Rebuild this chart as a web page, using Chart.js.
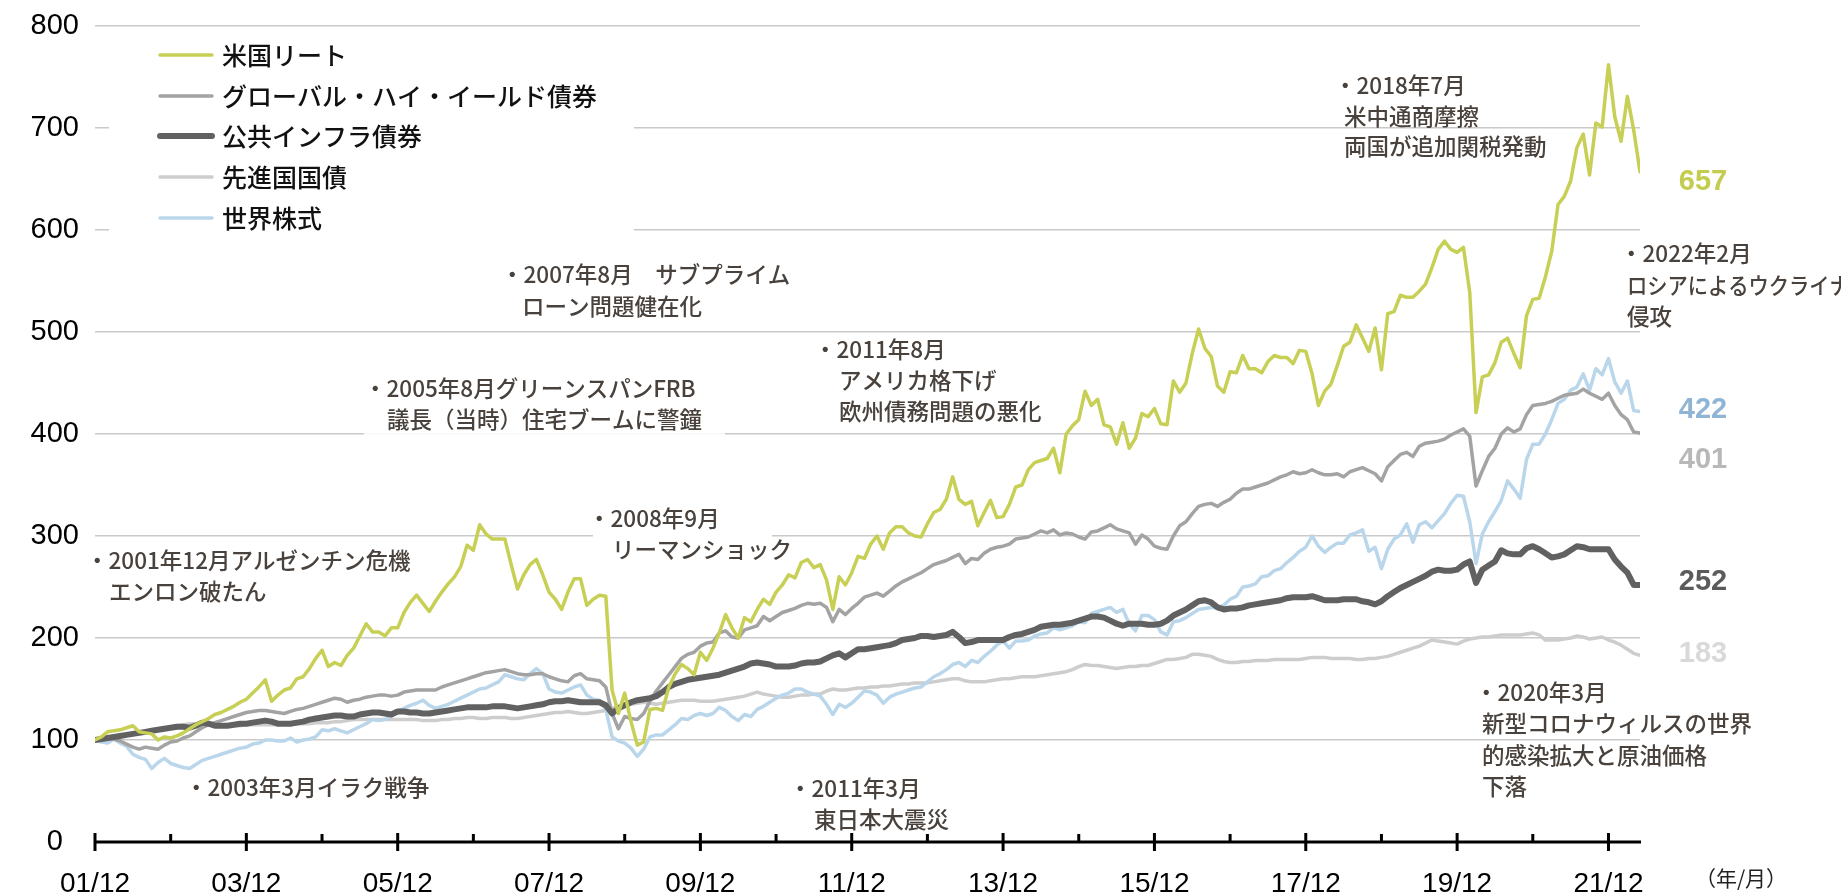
<!DOCTYPE html>
<html lang="ja">
<head>
<meta charset="utf-8">
<title>資産別パフォーマンス推移</title>
<script src="https://cdn.jsdelivr.net/npm/chart.js@4.4.1/dist/chart.umd.min.js"></script>
<style>
  html, body { margin: 0; padding: 0; background: #fff; }
  #wrap { position: relative; width: 1841px; height: 896px; }
</style>
</head>
<body>
<div id="wrap"><canvas id="chart"></canvas></div>
<script>
// 月次データ（2001年12月=100、2001/12〜2022/05）。1行=12か月
const reit = [
  100,103,108,109,110,112,114,108,107,106,100,103,
  102,104,107,111,115,118,121,125,127,130,133,137,
  140,146,152,159,138,144,149,151,160,162,170,180,
  188,172,176,173,183,190,202,214,206,206,202,210,
  210,225,235,242,234,226,236,245,253,260,270,291,
  286,311,302,297,297,297,272,248,262,272,277,262,
  245,238,228,245,258,258,232,238,242,241,149,126,
  146,118,95,98,130,131,129,152,165,174,170,164,
  186,178,190,205,223,210,200,220,216,228,238,233,
  245,252,262,259,274,277,269,272,257,228,260,252,
  264,280,278,292,300,287,303,309,309,303,300,299,
  312,323,326,336,358,336,331,334,310,323,335,318,
  319,331,348,350,365,372,374,376,386,362,400,408,
  414,442,428,434,409,407,390,411,386,396,420,417,
  425,410,409,452,441,450,479,503,484,476,447,441,
  461,460,477,464,464,460,471,477,475,475,469,482,
  481,459,428,442,449,467,486,490,507,494,481,504,
  463,518,520,536,534,534,540,547,563,581,589,581,
  578,583,539,421,456,458,470,490,494,479,465,516,
  532,533,554,579,625,633,648,681,694,654,705,701,
  762,711,687,731,698,657
];

const highYield = [
  100,100,101,101,99,96,93,91,93,92,91,95,
  98,99,102,104,108,112,115,117,119,121,123,125,
  127,128,129,129,128,127,126,128,130,131,133,135,
  137,139,141,140,137,139,140,142,143,144,144,143,
  144,147,148,149,149,149,149,152,154,156,158,160,
  162,164,166,167,168,169,167,165,164,164,165,165,
  162,160,158,157,163,165,160,159,158,152,126,111,
  123,121,120,126,138,148,156,164,172,180,184,186,
  192,195,196,205,207,201,200,208,210,212,221,217,
  221,225,227,229,232,234,233,234,230,216,228,223,
  229,234,240,242,244,241,246,251,255,258,261,264,
  268,272,274,276,279,282,273,278,277,283,287,289,
  290,292,297,298,299,302,305,303,306,301,303,302,
  299,297,304,305,308,311,307,305,303,292,301,297,
  290,288,287,300,310,314,322,329,331,332,329,333,
  336,342,346,346,348,350,352,355,358,360,363,361,
  362,365,362,360,360,361,358,363,365,367,364,361,
  354,368,374,380,382,378,388,391,392,393,395,399,
  402,405,398,349,364,378,386,400,406,402,405,419,
  428,429,430,432,435,438,439,440,444,440,437,434,
  440,428,419,414,402,401
];

const infra = [
  100,101,102,103,104,105,106,107,108,109,110,111,
  112,113,113,112,114,117,116,114,114,114,115,116,
  116,117,118,119,118,116,116,116,117,118,120,121,
  122,123,124,124,123,123,125,126,127,127,126,125,
  128,128,127,127,126,126,127,128,129,130,131,132,
  132,132,132,133,133,133,132,131,132,133,134,135,
  137,138,138,139,138,137,137,137,137,134,126,131,
  134,137,139,140,141,143,147,152,155,157,159,160,
  161,162,163,164,166,168,170,172,175,176,175,174,
  172,172,172,173,175,176,176,177,180,183,185,181,
  185,189,189,190,191,192,193,195,198,199,200,202,
  202,201,202,203,206,201,195,196,198,198,198,198,
  198,201,203,204,206,208,211,212,213,213,214,215,
  217,219,221,221,220,217,214,212,214,214,214,213,
  213,214,217,222,225,228,232,236,237,235,230,228,
  229,229,230,232,233,234,235,236,237,239,240,240,
  240,241,239,237,237,237,238,238,238,236,235,233,
  236,241,245,249,252,255,258,261,265,267,266,266,
  267,272,275,254,267,271,275,286,283,282,282,288,
  290,287,283,279,280,282,286,290,289,287,287,287,
  287,277,270,264,252,252
];

const govBonds = [
  100,101,102,103,104,105,106,107,108,109,110,111,
  113,114,115,116,116,116,116,116,115,114,114,114,
  115,115,115,115,115,115,116,116,116,116,116,117,
  117,117,118,118,119,120,120,120,120,120,120,120,
  120,120,120,120,119,119,119,120,120,121,121,122,
  122,121,121,122,122,122,121,121,122,123,124,125,
  126,127,127,128,127,126,126,127,128,129,131,133,
  134,135,136,137,136,135,136,137,138,139,139,139,
  138,138,138,139,140,141,142,143,145,147,145,144,
  143,142,142,143,144,144,145,145,148,150,149,149,
  150,151,151,152,152,153,153,154,155,155,156,156,
  156,157,158,159,160,160,158,157,157,157,158,159,
  160,160,161,162,162,162,163,164,165,166,167,169,
  172,174,173,173,172,171,170,171,172,172,173,173,
  175,177,179,179,180,181,184,184,183,182,179,177,
  176,176,177,177,178,178,178,179,179,179,179,179,
  180,181,181,181,180,180,180,180,179,179,180,180,
  181,182,184,186,188,190,192,195,198,197,196,195,
  194,197,199,200,201,201,202,203,203,203,203,204,
  205,203,198,198,198,199,200,202,201,199,200,201,
  198,196,193,189,185,183
];

const worldEquity = [
  100,98,97,101,97,94,86,83,81,72,78,82,
  77,75,73,72,76,80,82,84,86,88,90,92,
  93,96,97,100,100,99,99,102,98,100,101,103,
  110,109,111,109,107,110,113,116,120,119,120,124,
  128,131,134,136,139,134,131,133,135,138,141,144,
  147,150,151,154,157,164,162,160,159,165,170,165,
  150,147,146,149,152,154,144,140,139,130,103,99,
  97,92,84,91,103,105,105,110,115,121,120,124,
  126,124,126,132,129,123,119,125,123,130,133,137,
  141,144,146,150,150,147,145,143,135,125,135,132,
  136,142,148,147,144,136,142,145,147,149,151,152,
  157,162,165,169,174,176,172,178,176,182,187,193,
  197,190,197,197,198,202,204,205,210,208,210,212,
  216,215,224,226,228,230,225,228,214,207,222,222,
  218,206,203,216,217,220,224,228,229,230,230,232,
  238,241,250,251,253,260,261,266,268,274,279,285,
  289,300,290,284,289,293,293,301,303,306,285,289,
  268,287,297,301,312,294,311,314,308,315,322,332,
  340,339,314,273,302,314,324,335,354,346,337,375,
  390,390,400,414,430,434,443,446,459,443,464,458,
  474,451,440,452,423,422
];

const seriesNames = ['米国リート', 'グローバル・ハイ・イールド債券', '公共インフラ債券', '先進国国債', '世界株式'];
const xTickLabels = ['01/12', '03/12', '05/12', '07/12', '09/12', '11/12', '13/12', '15/12', '17/12', '19/12', '21/12'];
const yTicks = [0, 100, 200, 300, 400, 500, 600, 700, 800];

const seriesData = [reit, highYield, infra, govBonds, worldEquity];
const lineColors = ['#c7cf55', '#a3a3a3', '#616161', '#cdcdcd', '#bad6eb'];
const labelColors = ['#c3cc4e', '#b8b8b8', '#5b5b5b', '#d9d9d9', '#8fb4d4'];
const lineWidths = [3.5, 3.5, 6, 3.5, 3.5];
const drawOrder = [0, 2, 1, 4, 3];
const endLabelShift = [10, 27, -3, -1, -2];

seriesData.forEach((s, i) => {
  if (s.length !== reit.length) throw new Error(seriesNames[i] + ' length ' + s.length);
});

const xMax = reit.length - 1;

const annotations = [
  { x: 86, y: 560, t: '・2001年12月アルゼンチン危機' },
  { x: 109, y: 591, t: 'エンロン破たん' },
  { x: 185, y: 787, t: '・2003年3月イラク戦争' },
  { x: 364, y: 388, t: '・2005年8月グリーンスパンFRB' },
  { x: 387, y: 419, t: '議長（当時）住宅ブームに警鐘' },
  { x: 501, y: 274, t: '・2007年8月　サブプライム' },
  { x: 522, y: 306, t: 'ローン問題健在化' },
  { x: 588, y: 518, t: '・2008年9月' },
  { x: 612, y: 549, t: 'リーマンショック' },
  { x: 814, y: 349, t: '・2011年8月' },
  { x: 839, y: 380, t: 'アメリカ格下げ' },
  { x: 839, y: 411, t: '欧州債務問題の悪化' },
  { x: 789, y: 788, t: '・2011年3月' },
  { x: 814, y: 819, t: '東日本大震災' },
  { x: 1334, y: 85, t: '・2018年7月' },
  { x: 1344, y: 116, t: '米中通商摩擦' },
  { x: 1344, y: 146, t: '両国が追加関税発動' },
  { x: 1620, y: 253, t: '・2022年2月' },
  { x: 1627, y: 285, t: 'ロシアによるウクライナ', squeeze: 0.9 },
  { x: 1627, y: 316, t: '侵攻' },
  { x: 1475, y: 692, t: '・2020年3月' },
  { x: 1482, y: 723, t: '新型コロナウィルスの世界' },
  { x: 1482, y: 755, t: '的感染拡大と原油価格' },
  { x: 1482, y: 786, t: '下落' }
];

// 目盛線を隠す白い下地（凡例・注記）
const maskBoxes = [
  { x: 109, y: 38, w: 525, h: 205, fill: '#ffffff' },
  { x: 364, y: 368, w: 361, h: 72, fill: 'rgba(255,255,255,0.85)' },
  { x: 593, y: 500, w: 179, h: 70, fill: '#ffffff' }
];

const legendRows = [55, 96, 136, 177, 218];

const decor = {
  id: 'decor',
  beforeDatasetsDraw(chart) {
    const c = chart.ctx;
    c.save();
    maskBoxes.forEach(b => {
      c.fillStyle = b.fill;
      c.fillRect(b.x, b.y, b.w, b.h);
    });
    c.restore();
  },
  afterDatasetsDraw(chart) {
    const c = chart.ctx;
    const xs = chart.scales.x;
    const ys = chart.scales.y;
    const y0 = ys.getPixelForValue(0);
    c.save();

    // x軸と目盛
    c.strokeStyle = '#000';
    c.lineWidth = 3;
    c.beginPath();
    c.moveTo(xs.getPixelForValue(0), y0);
    c.lineTo(xs.getPixelForValue(xMax) + 1, y0);
    for (let m = 0; m <= xMax; m += 12) {
      const px = xs.getPixelForValue(m);
      const major = m % 24 === 0;
      c.moveTo(px, major ? y0 - 9 : y0 - 8);
      c.lineTo(px, major ? y0 + 9 : y0);
    }
    c.stroke();

    // 凡例
    c.lineCap = 'round';
    c.textBaseline = 'middle';
    c.textAlign = 'left';
    seriesNames.forEach((name, i) => {
      const y = legendRows[i];
      c.strokeStyle = lineColors[i];
      c.lineWidth = lineWidths[i];
      c.beginPath();
      c.moveTo(160, y);
      c.lineTo(212, y);
      c.stroke();
      c.fillStyle = '#111';
      c.font = '500 25px "Noto Sans CJK JP"';
      c.fillText(name, 222, y);
    });

    // 注記
    c.fillStyle = '#48413c';
    c.font = '500 22.5px "Noto Sans CJK JP"';
    annotations.forEach(a => {
      if (a.squeeze) {
        c.save();
        c.translate(a.x, a.y);
        c.scale(a.squeeze, 1);
        c.fillText(a.t, 0, 0);
        c.restore();
      } else {
        c.fillText(a.t, a.x, a.y);
      }
    });

    // 右端の値
    c.textAlign = 'center';
    c.font = 'bold 29px "Liberation Sans"';
    seriesData.forEach((s, i) => {
      const last = s[s.length - 1];
      c.fillStyle = labelColors[i];
      c.fillText(String(last), 1703, ys.getPixelForValue(last) + endLabelShift[i]);
    });

    c.fillStyle = '#222';
    c.font = '21px "Noto Sans CJK JP"';
    c.fillText('（年/月）', 1741, 878);
    c.restore();
  }
};

const tickFont = { family: '"Liberation Sans"', size: 28 };

new Chart(document.getElementById('chart'), {
  type: 'line',
  data: {
    datasets: seriesData.map((s, i) => ({
      label: seriesNames[i],
      data: s.map((v, m) => ({ x: m, y: v })),
      borderColor: lineColors[i],
      borderWidth: lineWidths[i],
      order: drawOrder[i],
      fill: false
    }))
  },
  options: {
    responsive: true,
    maintainAspectRatio: false,
    animation: false,
    devicePixelRatio: 1,
    layout: { padding: { top: 26, right: 201, left: 0, bottom: 0 } },
    elements: {
      point: { radius: 0 },
      line: { tension: 0, borderJoinStyle: 'round', borderCapStyle: 'round' }
    },
    plugins: { legend: { display: false }, tooltip: { enabled: false } },
    scales: {
      x: {
        type: 'linear',
        min: 0,
        max: xMax,
        grid: { display: false },
        border: { display: false },
        afterBuildTicks: s => { s.ticks = xTickLabels.map((_, i) => ({ value: i * 24 })); },
        ticks: {
          autoSkip: false,
          maxRotation: 0,
          padding: 17,
          color: '#000',
          font: tickFont,
          callback: v => xTickLabels[v / 24] ?? ''
        },
        afterFit: s => { s.height = 54; s.paddingLeft = 0; s.paddingRight = 0; }
      },
      y: {
        min: 0,
        max: 800,
        afterBuildTicks: s => { s.ticks = yTicks.map(v => ({ value: v })); },
        grid: {
          color: c => (c.tick && c.tick.value === 0) ? 'rgba(0,0,0,0)' : '#c9c9c9',
          lineWidth: 1.5,
          drawTicks: false
        },
        border: { display: false },
        ticks: { padding: 16, crossAlign: 'center', color: '#000', font: { family: '"Liberation Sans"', size: 29 } },
        afterFit: s => { s.width = 95; s.paddingTop = 0; s.paddingBottom = 0; }
      }
    }
  },
  plugins: [decor]
});
</script>
</body>
</html>
